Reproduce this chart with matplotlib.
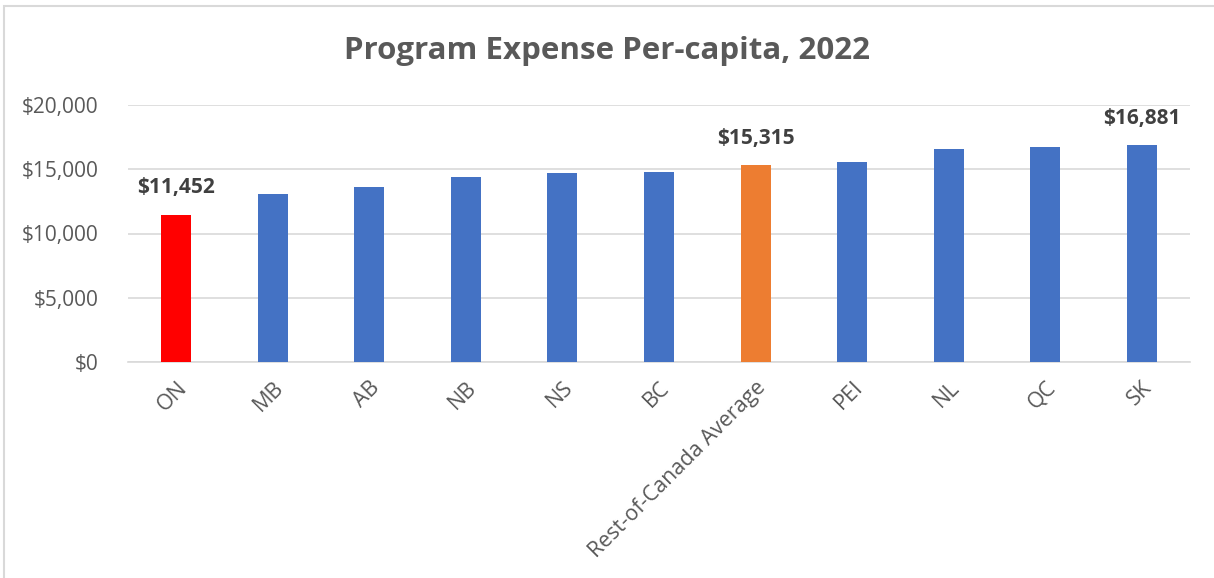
import matplotlib.pyplot as plt
from matplotlib.patches import Rectangle
from matplotlib.ticker import FuncFormatter

plt.rcParams['font.family'] = ['Open Sans', 'DejaVu Sans']

provinces = ['ON', 'MB', 'AB', 'NB', 'NS', 'BC', 'Rest-of-Canada Average',
             'PEI', 'NL', 'QC', 'SK']
expense = [11452, 13040, 13630, 14400, 14710, 14820, 15315,
           15590, 16570, 16730, 16881]
labelled = ['ON', 'Rest-of-Canada Average', 'SK']

colores = []
for p in provinces:
    if p == 'ON':
        colores.append('#FF0000')
    elif p == 'Rest-of-Canada Average':
        colores.append('#ED7D31')
    else:
        colores.append('#4472C4')

fig = plt.figure(figsize=(12.14, 5.78), dpi=100)
ax = fig.add_axes([128 / 1214, 1 - 362 / 578, (1190 - 128) / 1214, (362 - 105) / 578])

x = list(range(len(provinces)))
ax.bar(x, expense, width=0.31, color=colores, zorder=3)

for i, v in enumerate(expense):
    if provinces[i] in labelled:
        ax.annotate(f"${v:,.0f}", (i, v), xytext=(0, 27), textcoords='offset pixels',
                    ha='center', va='center', fontsize=15, fontweight='bold', color='#404040')

ax.set_xlim(-0.5, len(provinces) - 0.5)
ax.set_ylim(0, 20000)
ax.set_yticks([0, 5000, 10000, 15000, 20000])
ax.yaxis.set_major_formatter(FuncFormatter(lambda v, pos: f"${v:,.0f}"))
ax.grid(axis='y', color='#D9D9D9', linewidth=1.2, zorder=0)
for s in ['top', 'right', 'left']:
    ax.spines[s].set_visible(False)
ax.spines['bottom'].set_color('#D9D9D9')
ax.spines['bottom'].set_linewidth(1.2)
ax.tick_params(axis='both', length=0, labelsize=15, colors='#595959')
ax.tick_params(axis='y', pad=21)
ax.tick_params(axis='x', pad=11)
ax.set_xticks(x)
ax.set_xticklabels(provinces, rotation=45, ha='right', rotation_mode='anchor', fontsize=15.5)

fig.text(0.5, 1 - 51 / 578, "Program Expense Per-capita, 2022", ha='center', va='center',
         fontsize=22.5, fontweight='bold', color='#595959')

# marco del grafico (solo arriba e izquierda visibles)
fig.patches.append(Rectangle((4 / 1214, -0.1), 1.2, 1 - 6 / 578 + 0.1, transform=fig.transFigure,
                             fill=False, edgecolor='#D9D9D9', linewidth=1.5))

fig.savefig("out.png", dpi=100)
